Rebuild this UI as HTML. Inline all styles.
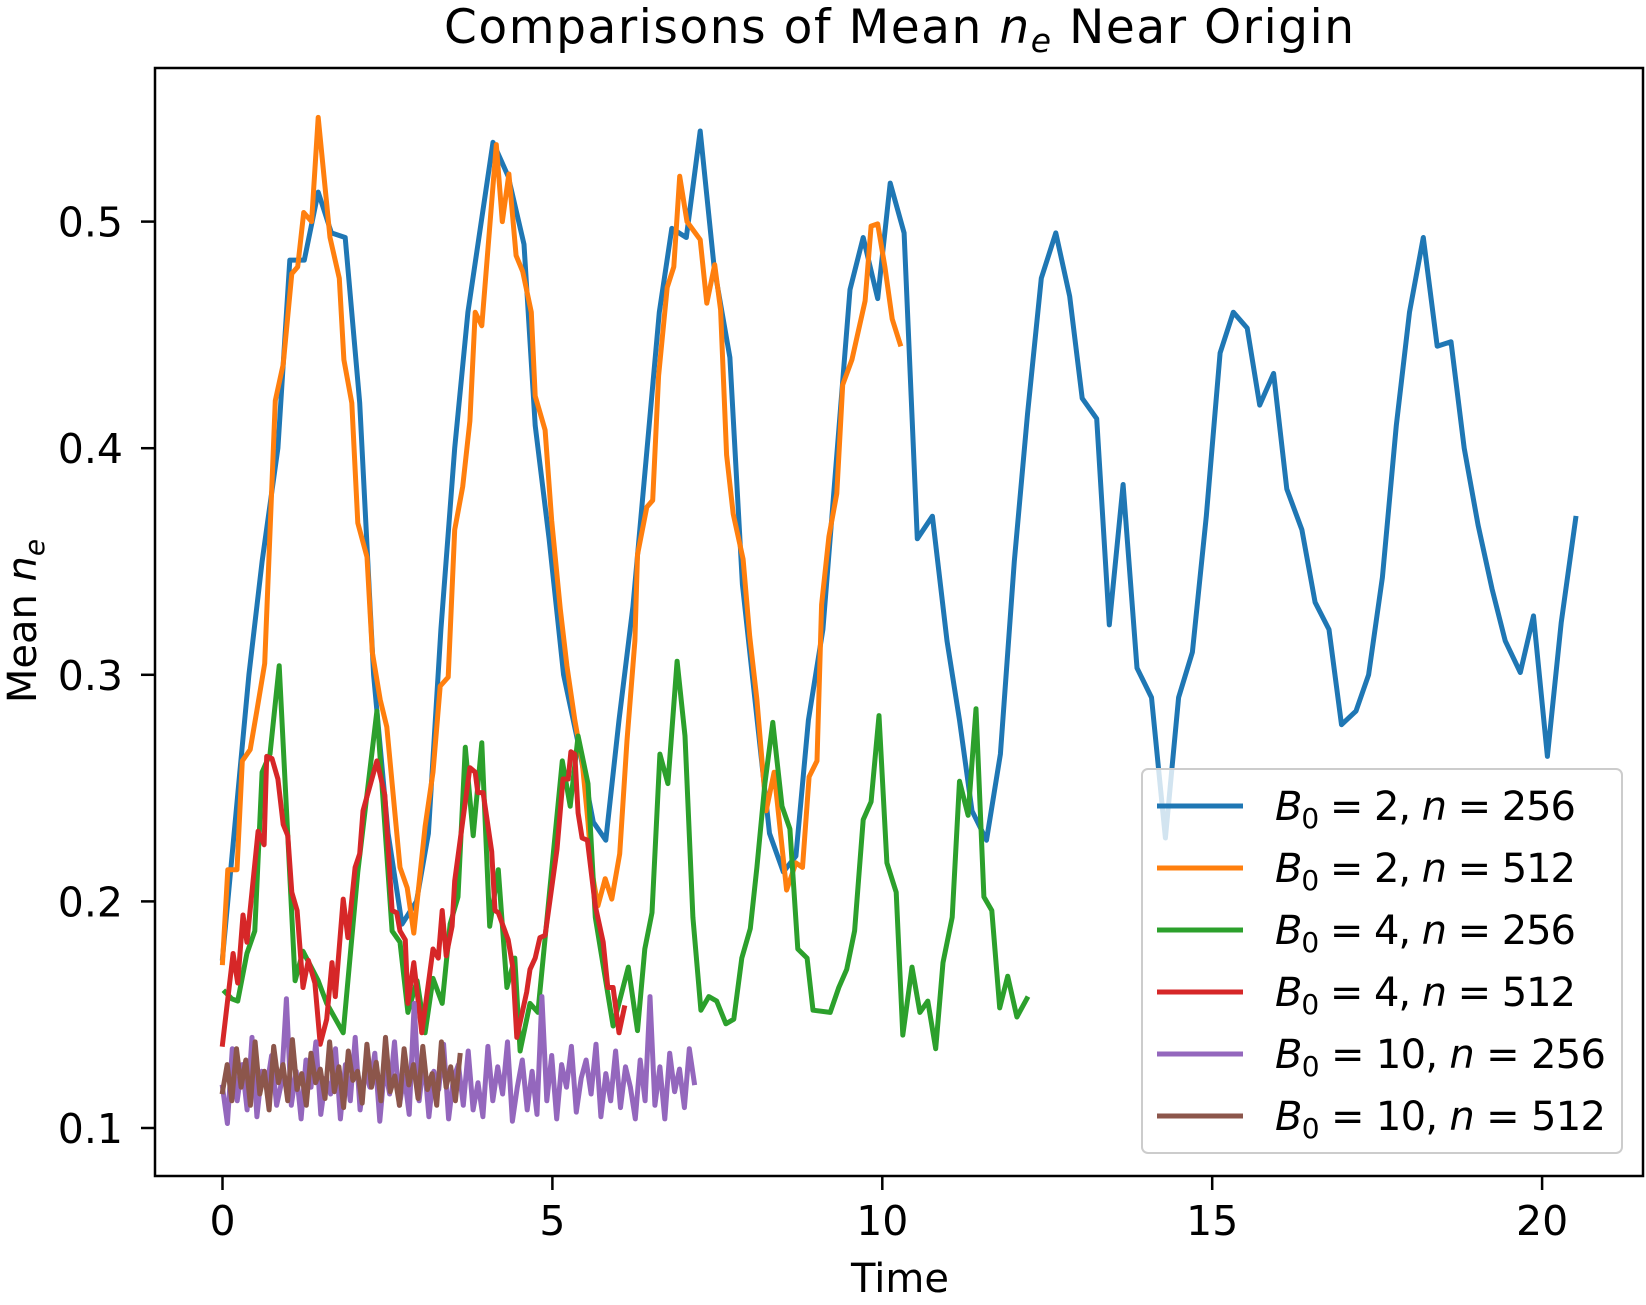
<!DOCTYPE html>
<html><head><meta charset="utf-8"><style>
html,body{margin:0;padding:0;background:#fff;}
svg{display:block;font-family:"DejaVu Sans","Liberation Sans",sans-serif;}
</style></head><body>
<svg id="chart" width="1646" height="1305" viewBox="0 0 1646 1305">
<text x="899" y="43" font-size="47" text-anchor="middle" textLength="910" lengthAdjust="spacing">Comparisons of Mean <tspan font-style="italic">n</tspan><tspan font-style="italic" font-size="33" dy="9">e</tspan><tspan dy="-9"> Near Origin</tspan></text>
<text x="900" y="1292" font-size="40" text-anchor="middle">Time</text>
<text transform="translate(36,621) rotate(-90)" font-size="40" text-anchor="middle">Mean <tspan font-style="italic">n</tspan><tspan font-style="italic" font-size="28" dy="8">e</tspan></text>
<g id="ticks"></g>
<g id="series"></g>
<rect x="155" y="68" width="1488" height="1108" fill="none" stroke="#000" stroke-width="2.5"/>
<g id="legend"></g>
</svg>
<script>
const xTicks=[0,5,10,15,20];
const yTicks=[0.1,0.2,0.3,0.4,0.5];
const colors=["#1f77b4","#ff7f0e","#2ca02c","#d62728","#9467bd","#8c564b"];
const labB=["2","2","4","4","10","10"];
const labN=["256","512","256","512","256","512"];
const t0=[0,0.40,0.60,0.84,1.02,1.24,1.45,1.65,1.86,2.08,2.29,2.51,2.72,2.94,3.12,3.31,3.52,3.72,4.10,4.33,4.57,4.74,4.95,5.17,5.39,5.62,5.81,6.01,6.22,6.62,6.81,7.03,7.24,7.45,7.69,7.88,8.29,8.50,8.69,8.88,9.10,9.51,9.71,9.93,10.12,10.33,10.53,10.76,10.98,11.17,11.36,11.58,11.79,12.00,12.20,12.41,12.63,12.84,13.03,13.25,13.44,13.65,13.86,14.08,14.29,14.49,14.70,14.91,15.12,15.32,15.53,15.72,15.93,16.13,16.36,16.56,16.77,16.96,17.18,17.37,17.58,17.79,17.99,18.20,18.41,18.62,18.82,19.03,19.24,19.44,19.67,19.87,20.08,20.29,20.51];
const s0=[0.175,0.3,0.35,0.4,0.483,0.483,0.513,0.495,0.493,0.42,0.3,0.23,0.19,0.2,0.23,0.32,0.4,0.46,0.535,0.52,0.49,0.41,0.36,0.3,0.27,0.235,0.227,0.28,0.33,0.46,0.497,0.493,0.54,0.48,0.44,0.34,0.23,0.213,0.22,0.28,0.32,0.47,0.493,0.466,0.517,0.495,0.36,0.37,0.315,0.28,0.24,0.227,0.265,0.35,0.415,0.475,0.495,0.467,0.422,0.413,0.322,0.384,0.303,0.29,0.228,0.29,0.31,0.37,0.442,0.46,0.453,0.419,0.433,0.382,0.364,0.332,0.32,0.278,0.284,0.3,0.343,0.41,0.46,0.493,0.445,0.447,0.4,0.366,0.338,0.315,0.301,0.326,0.264,0.323,0.369];
const t1=[0,0.08,0.22,0.30,0.42,0.52,0.64,0.80,0.92,1.05,1.14,1.23,1.35,1.45,1.63,1.77,1.84,1.96,2.05,2.19,2.27,2.39,2.49,2.69,2.80,2.90,3.07,3.19,3.30,3.42,3.52,3.64,3.75,3.83,3.93,4.15,4.24,4.34,4.45,4.55,4.68,4.74,4.89,4.99,5.12,5.22,5.34,5.45,5.54,5.60,5.69,5.80,5.90,6.02,6.13,6.25,6.29,6.43,6.52,6.61,6.74,6.84,6.93,7.04,7.24,7.34,7.46,7.55,7.64,7.74,7.89,7.99,8.10,8.24,8.36,8.55,8.69,8.79,8.89,9.01,9.08,9.19,9.31,9.40,9.54,9.74,9.83,9.93,10.04,10.15,10.27];
const s1=[0.173,0.214,0.214,0.262,0.267,0.284,0.305,0.421,0.437,0.477,0.48,0.504,0.5,0.546,0.493,0.475,0.439,0.42,0.367,0.352,0.31,0.289,0.277,0.215,0.206,0.186,0.233,0.257,0.295,0.299,0.364,0.383,0.412,0.46,0.454,0.534,0.5,0.521,0.485,0.478,0.46,0.423,0.408,0.368,0.329,0.304,0.28,0.262,0.235,0.213,0.198,0.21,0.201,0.221,0.271,0.315,0.353,0.374,0.377,0.432,0.471,0.48,0.52,0.5,0.492,0.464,0.481,0.461,0.397,0.371,0.351,0.317,0.289,0.24,0.257,0.205,0.217,0.215,0.255,0.262,0.331,0.361,0.38,0.428,0.439,0.465,0.498,0.499,0.48,0.457,0.446];
const t2=[0.04,0.14,0.23,0.37,0.49,0.60,0.72,0.86,1.10,1.22,1.45,1.58,1.83,2.05,2.34,2.57,2.69,2.81,2.95,3.07,3.19,3.33,3.45,3.57,3.68,3.80,3.93,4.05,4.18,4.31,4.43,4.51,4.66,4.78,5.15,5.27,5.39,5.54,5.65,5.92,6.15,6.29,6.40,6.51,6.63,6.75,6.89,7.01,7.13,7.25,7.37,7.49,7.63,7.75,7.87,8.00,8.10,8.22,8.34,8.48,8.60,8.72,8.86,8.95,9.21,9.34,9.46,9.58,9.71,9.83,9.95,10.07,10.21,10.31,10.45,10.57,10.69,10.81,10.92,11.06,11.17,11.30,11.42,11.54,11.66,11.78,11.90,12.04,12.19];
const s2=[0.16,0.157,0.156,0.177,0.187,0.257,0.265,0.304,0.165,0.178,0.165,0.155,0.142,0.213,0.284,0.187,0.182,0.151,0.165,0.142,0.166,0.155,0.19,0.202,0.268,0.229,0.27,0.189,0.214,0.162,0.175,0.134,0.155,0.151,0.262,0.242,0.273,0.252,0.193,0.145,0.171,0.143,0.179,0.195,0.265,0.252,0.306,0.273,0.193,0.152,0.158,0.156,0.146,0.148,0.175,0.188,0.215,0.252,0.279,0.242,0.232,0.179,0.175,0.152,0.151,0.162,0.17,0.187,0.236,0.244,0.282,0.217,0.204,0.141,0.171,0.151,0.156,0.135,0.173,0.193,0.253,0.238,0.285,0.202,0.196,0.153,0.167,0.149,0.157];
const t3=[0,0.16,0.23,0.31,0.37,0.54,0.63,0.67,0.75,0.84,0.92,0.99,1.05,1.13,1.22,1.30,1.40,1.48,1.58,1.66,1.71,1.83,1.90,2.01,2.08,2.13,2.34,2.46,2.57,2.64,2.69,2.77,2.81,2.90,3.02,3.19,3.27,3.33,3.39,3.48,3.52,3.75,3.83,3.87,3.95,4.08,4.13,4.18,4.28,4.33,4.40,4.46,4.61,4.66,4.74,4.81,4.89,5.07,5.16,5.24,5.28,5.34,5.39,5.45,5.53,5.65,5.77,5.84,5.92,6.01,6.09];
const s3=[0.137,0.177,0.164,0.194,0.182,0.231,0.225,0.264,0.263,0.254,0.234,0.229,0.204,0.196,0.162,0.174,0.164,0.137,0.148,0.173,0.158,0.201,0.184,0.215,0.221,0.24,0.262,0.247,0.196,0.195,0.187,0.183,0.155,0.173,0.142,0.179,0.175,0.196,0.176,0.189,0.209,0.259,0.257,0.248,0.248,0.222,0.196,0.195,0.187,0.183,0.171,0.14,0.16,0.17,0.175,0.184,0.185,0.223,0.254,0.254,0.266,0.265,0.239,0.228,0.227,0.198,0.182,0.162,0.162,0.142,0.153];
const s4=[0.118,0.102,0.135,0.112,0.128,0.108,0.14,0.105,0.125,0.118,0.132,0.11,0.12,0.157,0.11,0.125,0.104,0.13,0.118,0.138,0.106,0.122,0.115,0.135,0.104,0.128,0.112,0.14,0.108,0.125,0.118,0.133,0.103,0.127,0.115,0.138,0.11,0.123,0.106,0.155,0.112,0.13,0.105,0.125,0.117,0.137,0.104,0.122,0.128,0.11,0.134,0.108,0.12,0.105,0.136,0.112,0.127,0.115,0.138,0.103,0.118,0.13,0.108,0.125,0.106,0.158,0.112,0.132,0.104,0.128,0.118,0.136,0.107,0.122,0.13,0.115,0.137,0.105,0.124,0.112,0.134,0.109,0.127,0.118,0.104,0.13,0.112,0.158,0.11,0.127,0.104,0.133,0.116,0.126,0.109,0.135,0.12];
const s5=[0.116,0.128,0.112,0.135,0.118,0.13,0.11,0.138,0.115,0.125,0.108,0.136,0.12,0.128,0.112,0.139,0.117,0.124,0.11,0.133,0.12,0.126,0.113,0.138,0.116,0.127,0.109,0.134,0.121,0.125,0.111,0.137,0.118,0.129,0.112,0.14,0.116,0.123,0.11,0.135,0.119,0.128,0.113,0.136,0.117,0.124,0.11,0.138,0.118,0.127,0.112,0.132];
const tEnd4=7.15, tEnd5=3.6;
const L=155,R=1643,T=68,B=1176;
const X=t=>222.5+t*65.98;
const Y=v=>1128-(v-0.1)*2266;
const NS="http://www.w3.org/2000/svg";
function mk(tag,attrs,parent){const e=document.createElementNS(NS,tag);for(const k in attrs)e.setAttribute(k,attrs[k]);parent.appendChild(e);return e;}
const tg=document.getElementById('ticks');
xTicks.forEach(v=>{
  const l=mk('line',{x1:X(v),x2:X(v),y1:B,y2:B+14,stroke:'#000','stroke-width':2.5},tg);
  
  
  const t=mk('text',{x:X(v),y:1235,'font-size':41,'text-anchor':'middle'},tg);
  t.textContent=v;
  
  
});
yTicks.forEach(v=>{
  const l=mk('line',{x1:L-14,x2:L,y1:Y(v),y2:Y(v),stroke:'#000','stroke-width':2.5},tg);
  
  
  const t=mk('text',{x:123,y:Y(v)+15,'font-size':41,'text-anchor':'end'},tg);
  t.textContent=v.toFixed(1);
  
  
});
const uni=(s,end)=>s.map((v,j)=>j*end/(s.length-1));
const timeSets=[t0,t1,t2,t3,uni(s4,tEnd4),uni(s5,tEnd5)];
const series=[s0,s1,s2,s3,s4,s5];
const sg=document.getElementById('series');
series.forEach((s,i)=>{
  const ts=timeSets[i];
  const n=Math.min(s.length,ts.length);
  const pts=[];
  for(let j=0;j<n;j++)pts.push(X(ts[j]).toFixed(1)+','+Y(s[j]).toFixed(1));
  const p=mk('polyline',{points:pts.join(' '),fill:'none',stroke:colors[i],'stroke-width':5,'stroke-linejoin':'round','stroke-linecap':'square'},sg);
  
  
});
const lg=document.getElementById('legend');
const box=mk('rect',{x:1142,y:769,width:480,height:384,rx:6,fill:'#fff','fill-opacity':0.8,stroke:'#ccc','stroke-width':2},lg);


labB.forEach((b,i)=>{
  const y=806+i*62;
  const g=mk('g',{},lg);
  
  
  mk('line',{x1:1157,x2:1243,y1:y,y2:y,stroke:colors[i],'stroke-width':5},g);
  const t=mk('text',{x:1275,y:y+14,'font-size':40,textLength:(b.length>1?331:301),lengthAdjust:'spacing'},g);
  t.innerHTML='<tspan font-style="italic">B</tspan><tspan font-size="28" dy="8">0</tspan><tspan dy="-8"> = '+b+', </tspan><tspan font-style="italic">n</tspan><tspan> = '+labN[i]+'</tspan>';
});
</script>
</body></html>
